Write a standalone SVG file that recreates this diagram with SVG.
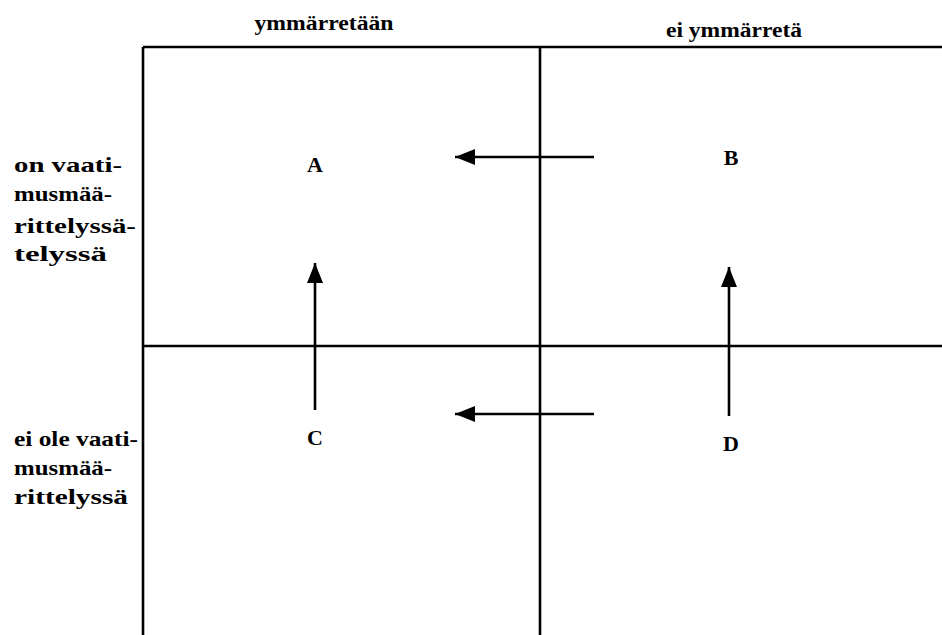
<svg xmlns="http://www.w3.org/2000/svg" width="942" height="635" viewBox="0 0 942 635">
<style>
.grid{stroke:#000;stroke-width:2.6;fill:none}
.conn{stroke:#000;stroke-width:2.6;fill:none}
.t{font-family:'Liberation Serif','Times New Roman',serif;font-weight:bold;font-size:22px;fill:#000}
.c{text-anchor:middle}
</style>
<defs>
<marker id="ah" markerUnits="userSpaceOnUse" markerWidth="22" markerHeight="16" refX="20" refY="8" orient="auto">
<path d="M0,0 L20,8 L0,16 Z" fill="#000"/>
</marker>
</defs>
<g id="grid">
<line class="grid" x1="143" y1="47" x2="942" y2="47"/>
<line class="grid" x1="143" y1="346" x2="942" y2="346"/>
<line class="grid" x1="143" y1="47" x2="143" y2="635"/>
<line class="grid" x1="540" y1="47" x2="540" y2="635"/>
</g>
<g id="headers">
<text class="t c" x="324" y="30" textLength="139" lengthAdjust="spacingAndGlyphs">ymmärretään</text>
<text class="t c" x="734" y="37" textLength="136" lengthAdjust="spacingAndGlyphs">ei ymmärretä</text>
</g>
<g id="rowlabels">
<text class="t" x="14" y="172" textLength="108" lengthAdjust="spacingAndGlyphs">on vaati-</text>
<text class="t" x="14" y="201" textLength="98" lengthAdjust="spacingAndGlyphs">musmää-</text>
<text class="t" x="14" y="233" textLength="122" lengthAdjust="spacingAndGlyphs">rittelyssä-</text>
<text class="t" x="14" y="261" textLength="93" lengthAdjust="spacingAndGlyphs">telyssä</text>
<text class="t" x="14" y="446" textLength="124" lengthAdjust="spacingAndGlyphs">ei ole vaati-</text>
<text class="t" x="14" y="475" textLength="98" lengthAdjust="spacingAndGlyphs">musmää-</text>
<text class="t" x="14" y="504" textLength="114" lengthAdjust="spacingAndGlyphs">rittelyssä</text>
</g>
<g id="A"><text class="t c" x="315" y="172">A</text></g>
<g id="B"><text class="t c" x="731" y="165">B</text></g>
<g id="C"><text class="t c" x="315" y="445">C</text></g>
<g id="D"><text class="t c" x="731" y="451">D</text></g>
<g id="connectors">
<line class="conn" x1="594" y1="157" x2="455" y2="157" marker-end="url(#ah)"/>
<line class="conn" x1="594" y1="414" x2="455" y2="414" marker-end="url(#ah)"/>
<line class="conn" x1="315" y1="410" x2="315" y2="263" marker-end="url(#ah)"/>
<line class="conn" x1="729" y1="416" x2="729" y2="267" marker-end="url(#ah)"/>
</g>
</svg>
